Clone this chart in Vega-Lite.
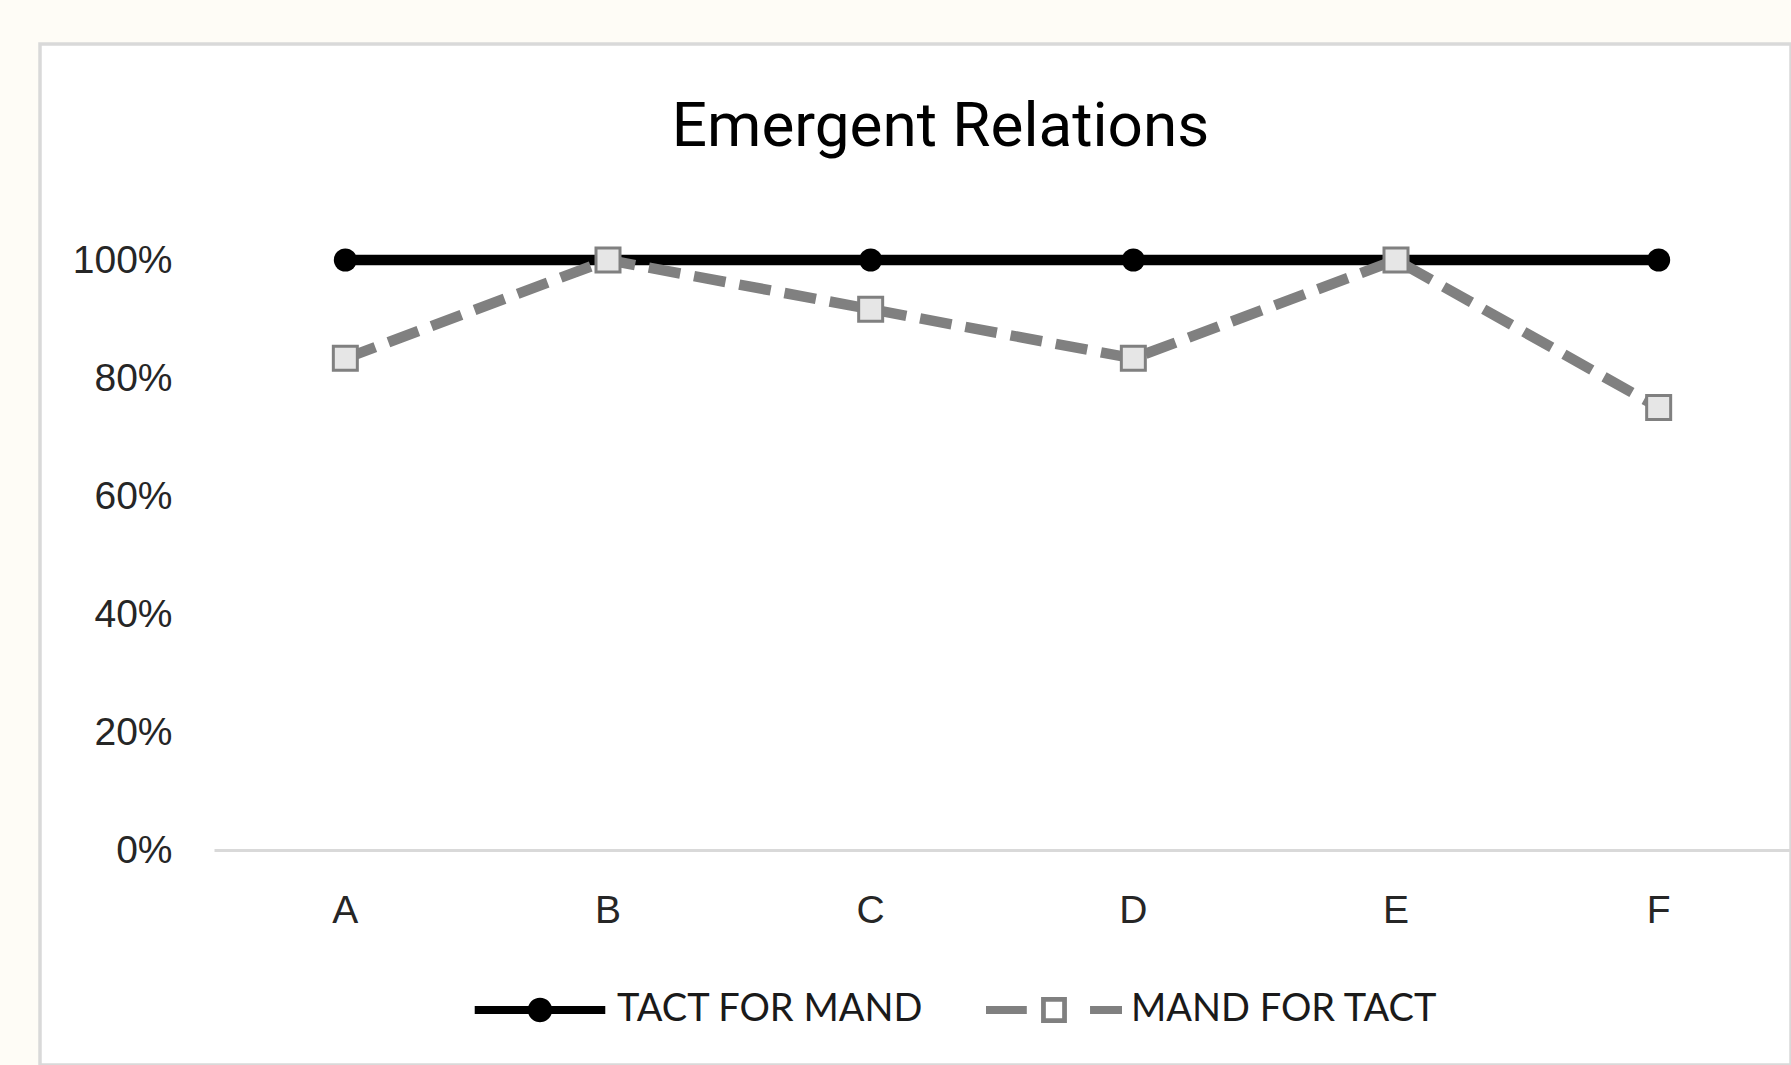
{
  "$schema": "https://vega.github.io/schema/vega-lite/v6.json",
  "autosize": {"type": "none"},
  "width": 1751,
  "height": 1021,
  "padding": {"left": 40, "top": 44, "right": 0, "bottom": 0},
  "background": "#FEFCF6",
  "config": {
    "view": {"fill": "#FFFFFF", "stroke": "#D9D9D9", "strokeWidth": 3.5}
  },
  "title": {
    "text": "Emergent Relations",
    "font": "Roboto",
    "fontSize": 62,
    "fontWeight": "normal",
    "color": "#000000",
    "anchor": "middle",
    "baseline": "alphabetic",
    "offset": 0,
    "dx": 25,
    "dy": 164
  },
  "data": {
    "values": [
      {"cat": "A", "series": "TACT FOR MAND", "value": 1},
      {"cat": "B", "series": "TACT FOR MAND", "value": 1},
      {"cat": "C", "series": "TACT FOR MAND", "value": 1},
      {"cat": "D", "series": "TACT FOR MAND", "value": 1},
      {"cat": "E", "series": "TACT FOR MAND", "value": 1},
      {"cat": "F", "series": "TACT FOR MAND", "value": 1},
      {"cat": "A", "series": "MAND FOR TACT", "value": 0.8333},
      {"cat": "B", "series": "MAND FOR TACT", "value": 1},
      {"cat": "C", "series": "MAND FOR TACT", "value": 0.9167},
      {"cat": "D", "series": "MAND FOR TACT", "value": 0.8333},
      {"cat": "E", "series": "MAND FOR TACT", "value": 1},
      {"cat": "F", "series": "MAND FOR TACT", "value": 0.75}
    ]
  },
  "encoding": {
    "x": {
      "field": "cat",
      "type": "ordinal",
      "scale": {"type": "band", "domain": ["A", "B", "C", "D", "E", "F"], "range": [174, 1750], "paddingInner": 0, "paddingOuter": 0},
      "axis": {
        "title": null,
        "orient": "bottom",
        "offset": -215,
        "domain": true,
        "domainColor": "#D9D9D9",
        "domainWidth": 3,
        "ticks": false,
        "tickSize": 0,
        "grid": false,
        "labelAngle": 0,
        "labelFont": "Liberation Sans",
        "labelFontSize": 39,
        "labelColor": "#262626",
        "labelPadding": 41
      }
    },
    "y": {
      "field": "value",
      "type": "quantitative",
      "scale": {"domain": [0, 1], "range": [806, 216], "nice": false, "zero": true},
      "axis": {
        "title": null,
        "offset": -174,
        "domain": false,
        "ticks": false,
        "tickSize": 0,
        "grid": false,
        "values": [0, 0.2, 0.4, 0.6, 0.8, 1],
        "format": ".0%",
        "labelFont": "Liberation Sans",
        "labelFontSize": 39,
        "labelColor": "#262626",
        "labelPadding": 42
      }
    }
  },
  "layer": [
    {
      "mark": {"type": "line", "strokeWidth": 10.5, "strokeCap": "butt", "strokeJoin": "round"},
      "encoding": {
        "color": {
          "field": "series",
          "type": "nominal",
          "scale": {"domain": ["TACT FOR MAND", "MAND FOR TACT"], "range": ["#000000", "#808080"]},
          "legend": {
            "title": null,
            "orient": "none",
            "direction": "horizontal",
            "legendX": 432,
            "legendY": 898,
            "padding": 0,
            "symbolSize": 18496,
            "symbolType": "square",
            "labelFont": "Lato",
            "labelFontSize": 38,
            "labelColor": "#1A1A1A",
            "labelOffset": 9,
            "columnPadding": 62,
            "labelLimit": 0,
            "encode": {
              "symbols": {
                "update": {
                  "shape": {"signal": "datum.value === 'TACT FOR MAND' ? 'M-0.96,-0.06H0.96V0.06H-0.96Z M-0.18,0A0.18,0.18 0 1,1 0.18,0A0.18,0.18 0 1,1 -0.18,0Z' : 'M-1,-0.06H-0.4V0.06H-1Z M0.53,-0.06H1V0.06H0.53Z M-0.19,-0.19H0.19V0.19H-0.19Z M-0.12,-0.12V0.12H0.12V-0.12Z'"},
                  "fill": {"signal": "datum.value === 'TACT FOR MAND' ? '#000000' : '#808080'"},
                  "fillOpacity": {"value": 1},
                  "opacity": {"value": 1},
                  "strokeWidth": {"value": 0},
                  "stroke": {"value": "transparent"}
                }
              }
            }
          }
        },
        "strokeDash": {
          "field": "series",
          "type": "nominal",
          "scale": {"domain": ["TACT FOR MAND", "MAND FOR TACT"], "range": [[1, 0], [32, 14]]},
          "legend": null
        }
      }
    },
    {
      "transform": [{"filter": "datum.series === 'TACT FOR MAND'"}],
      "mark": {"type": "point", "shape": "circle", "filled": true, "color": "#000000", "size": 531, "opacity": 1}
    },
    {
      "transform": [{"filter": "datum.series === 'MAND FOR TACT'"}],
      "mark": {"type": "point", "shape": "square", "filled": true, "fill": "#E6E6E6", "stroke": "#808080", "strokeWidth": 3, "size": 576, "opacity": 1}
    }
  ]
}
